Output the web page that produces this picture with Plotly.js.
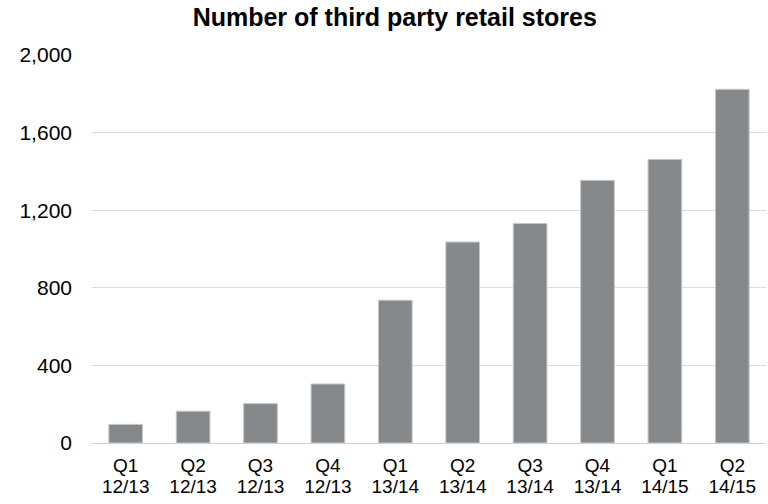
<!DOCTYPE html>
<html><head><meta charset="utf-8">
<script src="https://cdn.plot.ly/plotly-3.0.1.min.js"></script>
<style>html,body{margin:0;padding:0;background:#fff}#chart{width:768px;height:504px}</style>
</head><body><div id="chart"></div>
<script>
const quarters = ["Q1","Q2","Q3","Q4","Q1","Q2","Q3","Q4","Q1","Q2"];
const fiscalYears = ["12/13","12/13","12/13","12/13","13/14","13/14","13/14","13/14","14/15","14/15"];
const stores = [96, 164, 203, 304, 736, 1036, 1132, 1354, 1462, 1823];
const yTicks = [0, 400, 800, 1200, 1600, 2000];
const yTickText = ["0", "400", "800", "1,200", "1,600", "2,000"];
const categories = quarters.map((q, i) => q + " " + fiscalYears[i]);

const FONT = 'Liberation Sans, Arial, sans-serif';
Plotly.newPlot('chart', [
  {type: 'bar', x: categories, y: stores, xaxis: 'x', yaxis: 'y',
   marker: {color: '#86898b', line: {color: '#c8c8c8', width: 1}}, hoverinfo: 'skip'},
  {type: 'scatter', mode: 'none', x: categories, y: stores, xaxis: 'x2', yaxis: 'y', hoverinfo: 'skip'}
], {
  width: 768, height: 504,
  margin: {l: 92, r: 2, t: 55, b: 61},
  paper_bgcolor: '#fff', plot_bgcolor: '#fff',
  font: {family: FONT, size: 21, color: '#000'},
  title: {text: '<b>Number of third party retail stores</b>', x: 0.514, xanchor: 'center', y: 0.965, yanchor: 'middle', font: {size: 25, color: '#000'}},
  bargap: 0.5,
  showlegend: false,
  xaxis: {type: 'category', range: [-0.5, categories.length - 0.5], autorange: false,
          showgrid: false, showline: false, zeroline: false, ticks: '',
          tickvals: categories, ticktext: quarters, tickfont: {size: 19}, ticklabelstandoff: 9},
  xaxis2: {type: 'category', matches: 'x', overlaying: 'x', anchor: 'y', side: 'bottom',
           showgrid: false, showline: false, zeroline: false, ticks: '',
           tickvals: categories, ticktext: fiscalYears, tickfont: {size: 19}, ticklabelstandoff: 30},
  yaxis: {range: [0, 2000], tickvals: yTicks, ticktext: yTickText, showgrid: true, gridcolor: '#dcdcdc', gridwidth: 1,
          zeroline: true, zerolinecolor: '#d0d0d0', zerolinewidth: 1, showline: false, ticks: '', ticklabelstandoff: 19, tickfont: {size: 21}}
}, {displayModeBar: false, staticPlot: true});
</script></body></html>
